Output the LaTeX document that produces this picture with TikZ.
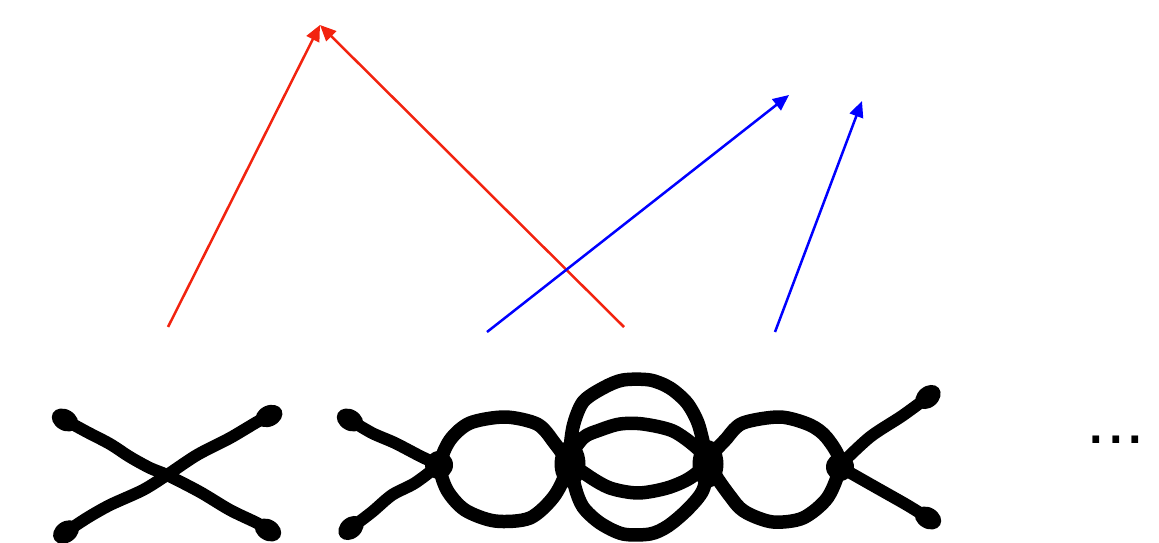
\documentclass[tikz,border=0pt]{standalone}
\usepackage{fontspec}
\setmainfont{Liberation Sans}
\usepackage{tikz}
\usetikzlibrary{arrows.meta, shapes.geometric}
\definecolor{arrowred}{RGB}{242,35,15}
\begin{document}
\begin{tikzpicture}[
    x=0.02cm, y=-0.02cm,
    blob/.style={ellipse, fill=black, inner sep=0pt, minimum width=0.56cm, minimum height=0.42cm},
    vertex/.style={circle, fill=black, inner sep=0pt, minimum size=0.56cm},
    junction/.style={ellipse, fill=black, inner sep=0pt, minimum width=0.62cm, minimum height=0.95cm},
    wire/.style={line width=0.24cm, black, line join=round},
    loopwire/.style={line width=0.27cm, black, line join=round},
    redarrow/.style={-{Triangle[length=0.32cm,width=0.28cm]}, line width=0.05cm, arrowred},
    bluearrow/.style={-{Triangle[length=0.32cm,width=0.28cm]}, line width=0.05cm, blue},
]
  \useasboundingbox (0,0) rectangle (1159,543);

  % Arrow end points
  \coordinate (redA) at (168,327);
  \coordinate (redB) at (624,327);
  \coordinate (redtop) at (320,25);
  \coordinate (blueA) at (487,332);
  \coordinate (blueAtop) at (789,95);
  \coordinate (blueB) at (775,332);
  \coordinate (blueBtop) at (862,101);

  % Arrows
  \draw[redarrow] (redA) -- (redtop);
  \draw[redarrow] (redB) -- (redtop);
  \draw[bluearrow] (blueA) -- (blueAtop);
  \draw[bluearrow] (blueB) -- (blueBtop);

  % Left cross
  \node[blob, rotate=-30] (crossTL) at (65,420) {};
  \node[blob, rotate=35] (crossBL) at (66,532) {};
  \node[blob, rotate=25] (crossTR) at (269,416) {};
  \node[blob, rotate=-30] (crossBR) at (268,530) {};
  \draw[wire] plot[smooth] coordinates {(65,420) (87,432) (110,444) (130,457) (150,468) (167,475) (200,492) (230,510) (257,523) (268,530)};
  \draw[wire] plot[smooth] coordinates {(66,532) (87,518) (110,505) (143,490) (167,475) (197,455) (230,438) (257,422) (269,416)};

  % Chain of bubbles: vertices
  \node[blob, rotate=-30] (chainTL) at (350,420) {};
  \node[blob, rotate=40] (chainBL) at (351,528) {};
  \node[vertex] (chainL) at (439,465) {};
  \node[junction] (chainM) at (570,464) {};
  \node[junction] (chainN) at (708,464) {};
  \node[vertex] (chainR) at (840,467) {};
  \node[blob, rotate=40] (chainTR) at (928,397) {};
  \node[blob, rotate=-30] (chainBR) at (928,518) {};

  % Chain of bubbles: legs
  \draw[wire] plot[smooth] coordinates {(350,420) (372,433) (395,443) (420,456) (439,465)};
  \draw[wire] plot[smooth] coordinates {(351,528) (372,512) (392,495) (415,483) (439,465)};
  \draw[wire] plot[smooth] coordinates {(840,465) (870,437) (902,416) (928,397)};
  \draw[wire] plot[smooth] coordinates {(840,467) (877,488) (907,505) (928,518)};

  % Chain of bubbles: loops
  \draw[loopwire] plot[smooth cycle] coordinates {(440,465) (450,440) (470,423) (505,417) (537,424) (553,441) (567,465) (555,495) (530,518) (495,521) (465,510) (447,490)};
  \draw[loopwire] plot[smooth cycle] coordinates {(570,458) (573,427) (583,402) (603,388) (623,380) (650,380) (670,388) (687,403) (698,423) (705,450) (708,463) (703,490) (688,509) (668,526) (650,534) (623,534) (600,523) (583,507) (575,487)};
  \draw[loopwire] plot[smooth cycle] coordinates {(570,460) (583,438) (600,430) (620,424) (643,424) (673,431) (697,448) (707,462) (690,478) (667,488) (638,493) (610,488) (587,475)};
  \draw[loopwire] plot[smooth cycle] coordinates {(710,463) (727,438) (743,423) (780,417) (810,425) (827,438) (840,463) (828,497) (803,518) (773,522) (747,513) (733,500)};

  % Dots
  \node[font=\fontsize{40}{40}\selectfont, inner sep=0pt] (dots) at (1116,440) {...};
\end{tikzpicture}
\end{document}
